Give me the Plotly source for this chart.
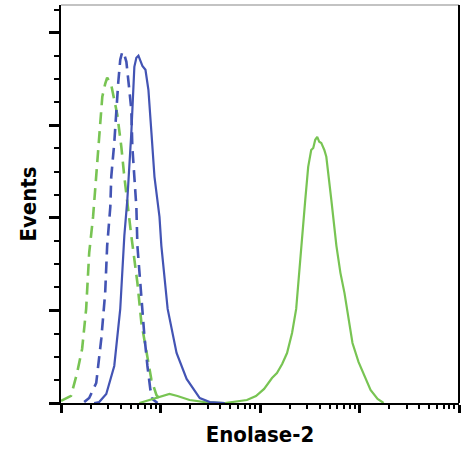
import plotly.graph_objects as go

# Intensity (log axis, 10^0 .. 10^4) and event counts for each histogram
green_dash_x = [1.0, 1.15, 1.26, 1.45, 1.63, 1.79, 1.92, 2.10, 2.21, 2.31, 2.42, 2.60, 2.78, 2.91,
                3.20, 3.68, 4.04, 4.33, 5.09, 5.86, 6.43, 7.39, 8.11, 9.11, 10.2]
green_dash_y = [1.1, 2.7, 3.8, 16.2, 29.2, 50.8, 81.1, 100.5, 116.8, 131.3, 147.6, 165.4, 172.4, 175.7,
                171.8, 155.7, 138.4, 122.2, 90.3, 64.9, 43.2, 23.8, 12.4, 4.3, 1.1]

blue_dash_x = [1.71, 1.92, 2.26, 2.54, 2.78, 2.91, 3.13, 3.20, 3.43, 3.59, 3.76, 3.94, 4.13, 4.33,
               4.54, 4.86, 5.09, 5.21, 5.46, 5.72, 5.86, 6.43, 6.89, 7.39, 7.92, 8.30, 9.33]
blue_dash_y = [0.5, 2.7, 10.8, 34.6, 59.5, 84.9, 105.9, 122.2, 140.5, 158.4, 173.0, 185.4, 189.7, 188.1,
               184.3, 169.2, 158.4, 138.4, 122.2, 105.9, 84.9, 56.2, 36.2, 20.0, 7.0, 2.2, 0]

blue_solid_x = [2.15, 2.42, 2.85, 3.43, 3.94, 4.33, 4.64, 5.09, 5.46, 5.72, 6.00, 6.28, 6.58, 7.06,
                7.56, 8.11, 8.70, 9.77, 10.2, 11.8, 14.5, 18.3, 24.8, 31.3, 44.3]
blue_solid_y = [0, 0.5, 4.9, 20.0, 50.8, 90.3, 109.7, 145.9, 181.6, 186.5, 187.6, 184.3, 182.1, 180.0,
                169.2, 145.9, 122.2, 100.5, 84.9, 50.8, 27.0, 13.0, 2.7, 0.5, 0]

green_solid_x = [6.14, 7.22, 8.70, 10.5, 12.3, 14.8, 19.6, 27.8, 44.3, 73.9, 91.1, 110, 132, 148, 167,
                 187, 210, 231, 248, 266, 285, 305, 327, 343, 359, 376, 394, 413, 443, 464, 498, 521,
                 586, 643, 706, 850, 977, 1123, 1291, 1520, 1748]
green_solid_y = [0, 1.1, 2.2, 3.8, 4.9, 3.8, 1.6, 0.5, 0, 1.6, 3.8, 7.6, 13.5, 16.2, 21.1,
                 27.0, 37.8, 50.8, 71.9, 90.3, 109.7, 127.6, 136.7, 137.8, 142.2, 143.8, 141.1, 140.5, 136.7, 133.0, 120.5, 109.7,
                 84.9, 70.3, 59.5, 32.4, 22.2, 14.6, 7.0, 2.2, 0]

BLUE = "#4354b4"
GREEN = "#78c453"

fig = go.Figure()
fig.add_trace(go.Scatter(x=green_dash_x, y=green_dash_y, mode="lines",
                         line=dict(color=GREEN, width=2.6, dash="12px,7px"), showlegend=False))
fig.add_trace(go.Scatter(x=blue_dash_x, y=blue_dash_y, mode="lines",
                         line=dict(color=BLUE, width=2.6, dash="12px,7px"), showlegend=False))
fig.add_trace(go.Scatter(x=green_solid_x, y=green_solid_y, mode="lines",
                         line=dict(color=GREEN, width=2.2), showlegend=False))
fig.add_trace(go.Scatter(x=blue_solid_x, y=blue_solid_y, mode="lines",
                         line=dict(color=BLUE, width=2.2), showlegend=False))

title_font = dict(family="DejaVu Sans Condensed, Liberation Sans Narrow, sans-serif",
                  size=22, color="black", weight=700)

fig.update_layout(
    width=468, height=453,
    margin=dict(l=61, r=9, t=5, b=50),
    plot_bgcolor="white", paper_bgcolor="white",
    xaxis=dict(type="log", range=[0, 4], dtick=1, showticklabels=False, showgrid=False, zeroline=False,
               automargin=False,
               showline=True, linecolor="black", linewidth=2,
               ticks="outside", ticklen=8, tickwidth=2.5, tickcolor="black",
               minor=dict(ticks="outside", ticklen=4, tickwidth=1.5, tickcolor="black", showgrid=False),
               title=dict(text="Enolase-2", font=title_font, standoff=15)),
    yaxis=dict(range=[0, 215], dtick=50, showticklabels=False, showgrid=False, zeroline=False,
               automargin=False,
               showline=True, linecolor="black", linewidth=2,
               ticks="outside", ticklen=10, tickwidth=2.5, tickcolor="black",
               minor=dict(dtick=12.5, ticks="outside", ticklen=5, tickwidth=1.5, tickcolor="black", showgrid=False),
               title=dict(text="Events", font=title_font, standoff=6)),
    shapes=[
        dict(type="line", xref="paper", yref="paper", x0=0, x1=1, y0=1, y1=1,
             line=dict(color="#888888", width=1.2)),
        dict(type="line", xref="paper", yref="paper", x0=1, x1=1, y0=0, y1=1,
             line=dict(color="black", width=2)),
    ],
)

fig.write_html("out.html", config={"displayModeBar": False},
               post_script="document.body.style.margin='0';")
